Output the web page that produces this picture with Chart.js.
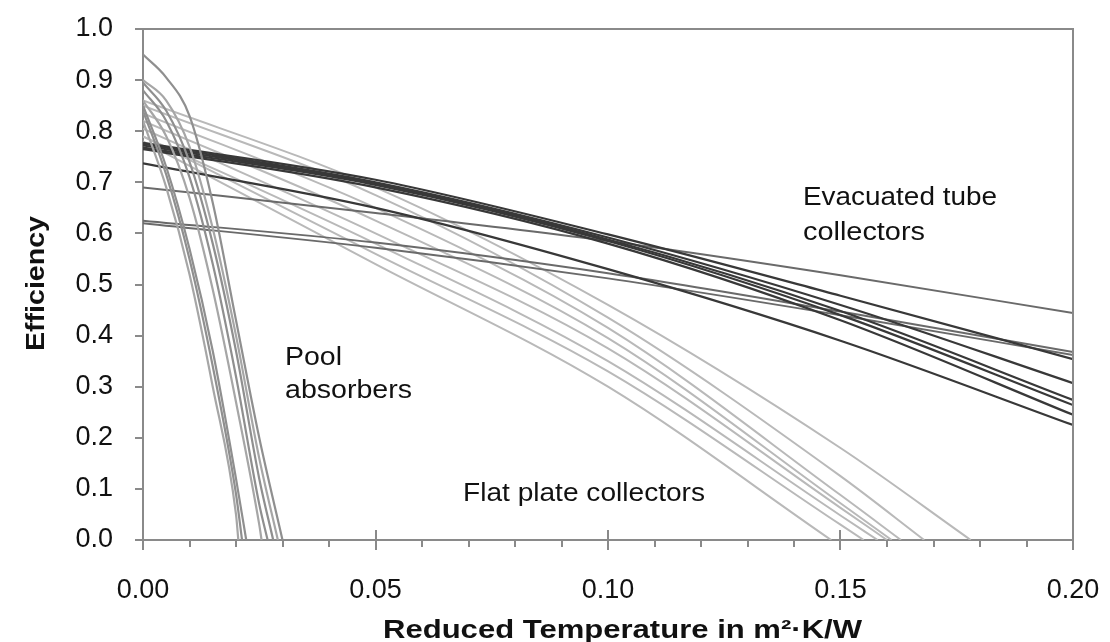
<!DOCTYPE html>
<html>
<head>
<meta charset="utf-8">
<script src="https://cdn.jsdelivr.net/npm/chart.js@4.4.1/dist/chart.umd.min.js"></script>
<style>
  html, body { margin: 0; padding: 0; background: #fff; }
</style>
</head>
<body>
<canvas id="efficiencyChart" width="1110" height="642"></canvas>
<script>
// Collector efficiency curves vs reduced temperature (m²·K/W)

// Evacuated tube collectors: sampled at fixed x positions
const evacX = [0, 0.05, 0.10, 0.15, 0.20];
const evacDarkY = [
    [0.777, 0.705, 0.598, 0.478, 0.354],
    [0.775, 0.700, 0.592, 0.460, 0.307],
    [0.772, 0.697, 0.588, 0.448, 0.274],
    [0.768, 0.695, 0.585, 0.440, 0.264],
    [0.765, 0.690, 0.580, 0.430, 0.245],
    [0.737, 0.650, 0.530, 0.390, 0.225],
];
const evacGreyY = [
    [0.690, 0.640, 0.585, 0.518, 0.444],
    [0.625, 0.582, 0.522, 0.447, 0.368],
    [0.620, 0.572, 0.512, 0.440, 0.362],
];

// Flat plate collectors: each curve runs until efficiency hits zero
const flatX = [
    [0, 0.05, 0.10, 0.15, 0.178],
    [0, 0.05, 0.10, 0.15, 0.168],
    [0, 0.05, 0.10, 0.15, 0.163],
    [0, 0.05, 0.10, 0.15, 0.161],
    [0, 0.05, 0.10, 0.15, 0.160],
    [0, 0.05, 0.10, 0.15, 0.158],
    [0, 0.05, 0.10, 0.15, 0.155],
    [0, 0.05, 0.10, 0.148],
];
const flatY = [
    [0.860, 0.690, 0.460, 0.180, 0],
    [0.850, 0.675, 0.435, 0.125, 0],
    [0.835, 0.650, 0.415, 0.088, 0],
    [0.820, 0.625, 0.395, 0.072, 0],
    [0.805, 0.600, 0.375, 0.063, 0],
    [0.790, 0.580, 0.350, 0.048, 0],
    [0.790, 0.560, 0.330, 0.030, 0],
    [0.780, 0.540, 0.300, 0],
];

// Unglazed pool absorbers: steep drop to zero before 0.03
const poolX = [
    [0, 0.005, 0.010, 0.015, 0.020, 0.025, 0.0300],
    [0, 0.005, 0.010, 0.015, 0.020, 0.025, 0.0290],
    [0, 0.005, 0.010, 0.015, 0.020, 0.025, 0.0280],
    [0, 0.005, 0.010, 0.015, 0.020, 0.025, 0.0268],
    [0, 0.005, 0.010, 0.015, 0.020, 0.025, 0.0255],
    [0, 0.005, 0.010, 0.015, 0.020, 0.0222],
    [0, 0.005, 0.010, 0.015, 0.020, 0.0213],
    [0, 0.005, 0.010, 0.015, 0.020, 0.0205],
];
const poolY = [
    [0.950, 0.905, 0.830, 0.660, 0.430, 0.200, 0],
    [0.900, 0.860, 0.770, 0.610, 0.400, 0.160, 0],
    [0.895, 0.840, 0.740, 0.580, 0.370, 0.120, 0],
    [0.880, 0.820, 0.710, 0.540, 0.320, 0.070, 0],
    [0.860, 0.790, 0.670, 0.490, 0.270, 0.030, 0],
    [0.850, 0.730, 0.570, 0.370, 0.120, 0],
    [0.840, 0.715, 0.550, 0.340, 0.090, 0],
    [0.820, 0.690, 0.520, 0.300, 0.050, 0],
];

const yTicks = [0, 0.1, 0.2, 0.3, 0.4, 0.5, 0.6, 0.7, 0.8, 0.9, 1.0];
const xMajorTicks = [0, 0.05, 0.10, 0.15, 0.20];

const AXIS_COLOR = '#8a8a8a';
const FONT = "'Liberation Sans', Arial, sans-serif";

function curve(xs, ys, color, width, order) {
    return {
        data: xs.map((x, i) => ({ x, y: ys[i] })),
        borderColor: color,
        borderWidth: width,
        pointRadius: 0,
        cubicInterpolationMode: 'monotone',
        fill: false,
        order,
    };
}

const datasets = [
    ...poolY.map((ys, i) => curve(poolX[i], ys, i % 3 === 1 ? '#a6a6a6' : '#8f8f8f', 2.2, 1)),
    ...evacDarkY.map(ys => curve(evacX, ys, '#383838', 2.2, 2)),
    ...evacGreyY.map(ys => curve(evacX, ys, '#6a6a6a', 2, 2)),
    ...flatY.map((ys, i) => curve(flatX[i], ys, '#b9b9b9', 2, 3)),
];

// draw text squeezed/stretched to a given width
function fitText(ctx, text, x, y, width) {
    const w = ctx.measureText(text).width;
    ctx.save();
    ctx.translate(x, y);
    ctx.scale(width / w, 1);
    ctx.fillText(text, 0, 0);
    ctx.restore();
}

// keep the plot box fixed: labels may hang into the margins
function noOverflow(s) {
    s.paddingLeft = 0;
    s.paddingRight = 0;
    s.paddingTop = 0;
    s.paddingBottom = 0;
}

// plot frame, long major ticks, axis titles and group labels
const decorations = {
    id: 'decorations',
    afterDraw(chart) {
        const { ctx, chartArea: a, scales: { x } } = chart;
        ctx.save();
        ctx.strokeStyle = AXIS_COLOR;
        ctx.lineWidth = 2;
        ctx.beginPath();
        ctx.moveTo(a.left, a.top);
        ctx.lineTo(a.right, a.top);
        ctx.lineTo(a.right, a.bottom);
        xMajorTicks.forEach(v => {
            const px = Math.round(x.getPixelForValue(v));
            ctx.moveTo(px, a.bottom - 10);
            ctx.lineTo(px, a.bottom + 10);
        });
        ctx.stroke();

        ctx.fillStyle = '#111';
        ctx.textBaseline = 'alphabetic';
        ctx.textAlign = 'left';
        ctx.font = `26px ${FONT}`;
        fitText(ctx, 'Pool', 285, 365, 57);
        fitText(ctx, 'absorbers', 285, 398, 127);
        fitText(ctx, 'Flat plate collectors', 463, 501, 242);
        fitText(ctx, 'Evacuated tube', 803, 205, 194);
        fitText(ctx, 'collectors', 803, 240, 122);

        ctx.font = `bold 26px ${FONT}`;
        fitText(ctx, 'Reduced Temperature in m²·K/W', 383, 638, 479);
        ctx.translate(44, 284);
        ctx.rotate(-Math.PI / 2);
        fitText(ctx, 'Efficiency', -67, 0, 135);
        ctx.restore();
    },
};

new Chart(document.getElementById('efficiencyChart'), {
    type: 'line',
    data: { datasets },
    options: {
        responsive: false,
        devicePixelRatio: 1,
        animation: false,
        layout: { padding: { left: 0, top: 29, right: 37, bottom: 0 } },
        plugins: { legend: { display: false }, tooltip: { enabled: false } },
        scales: {
            x: {
                type: 'linear',
                min: 0,
                max: 0.2,
                afterFit: s => { s.height = 102; noOverflow(s); },
                afterBuildTicks: s => {
                    s.ticks = Array.from({ length: 21 }, (_, i) => ({ value: i / 100 }));
                },
                ticks: {
                    autoSkip: false,
                    maxRotation: 0,
                    padding: 27,
                    color: '#111',
                    font: { family: FONT, size: 27 },
                    callback: v => (Math.round(v * 100) % 5 === 0 ? v.toFixed(2) : ''),
                },
                grid: { drawOnChartArea: false, drawTicks: true, tickLength: 7, color: AXIS_COLOR, lineWidth: 2 },
                border: { display: true, color: AXIS_COLOR, width: 2 },
            },
            y: {
                min: 0,
                max: 1,
                afterFit: s => { s.width = 143; noOverflow(s); },
                afterBuildTicks: s => { s.ticks = yTicks.map(value => ({ value })); },
                ticks: {
                    padding: 22,
                    color: '#111',
                    font: { family: FONT, size: 27 },
                    callback: v => v.toFixed(1),
                },
                grid: { drawOnChartArea: false, drawTicks: true, tickLength: 8, color: AXIS_COLOR, lineWidth: 2 },
                border: { display: true, color: AXIS_COLOR, width: 2 },
            },
        },
    },
    plugins: [decorations],
});
</script>
</body>
</html>
